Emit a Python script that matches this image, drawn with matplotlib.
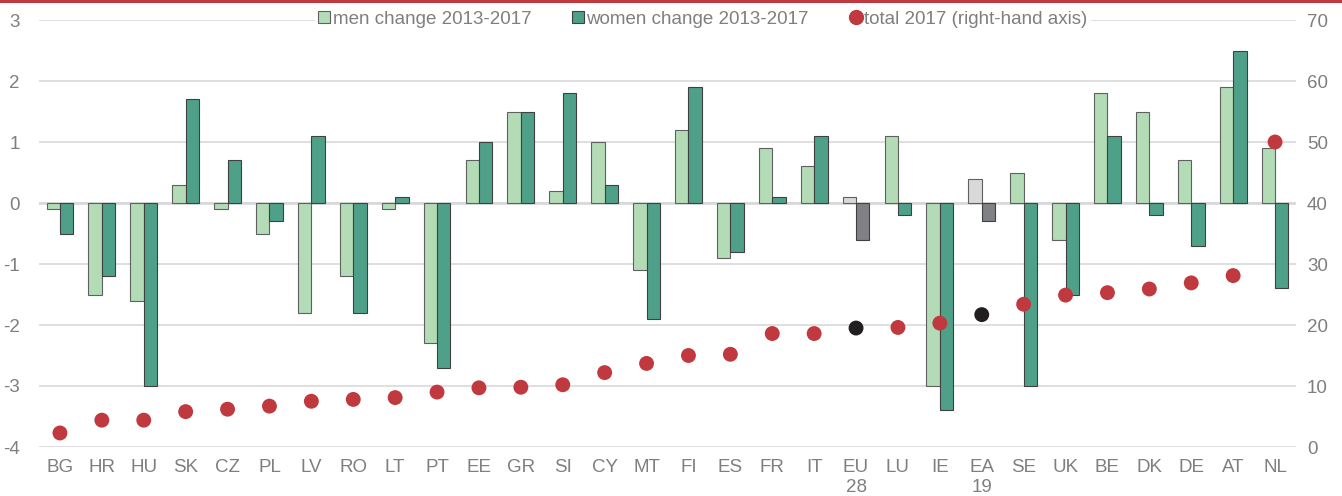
import numpy as np
import matplotlib
matplotlib.use("Agg")
import matplotlib.pyplot as plt
from matplotlib.lines import Line2D
from matplotlib.patches import Patch, Rectangle

plt.rcParams['font.family'] = ['Liberation Sans', 'DejaVu Sans']
plt.rcParams['font.size'] = 13.5
plt.rcParams['axes.unicode_minus'] = False

# data
countries = ['BG', 'HR', 'HU', 'SK', 'CZ', 'PL', 'LV', 'RO', 'LT', 'PT', 'EE', 'GR', 'SI', 'CY',
             'MT', 'FI', 'ES', 'FR', 'IT', 'EU\n28', 'LU', 'IE', 'EA\n19', 'SE', 'UK', 'BE',
             'DK', 'DE', 'AT', 'NL']
men_change = [-0.1, -1.5, -1.6, 0.3, -0.1, -0.5, -1.8, -1.2, -0.1, -2.3, 0.7, 1.5, 0.2, 1.0,
              -1.1, 1.2, -0.9, 0.9, 0.6, 0.1, 1.1, -3.0, 0.4, 0.5, -0.6, 1.8,
              1.5, 0.7, 1.9, 0.9]
women_change = [-0.5, -1.2, -3.0, 1.7, 0.7, -0.3, 1.1, -1.8, 0.1, -2.7, 1.0, 1.5, 1.8, 0.3,
                -1.9, 1.9, -0.8, 0.1, 1.1, -0.6, -0.2, -3.4, -0.3, -3.0, -1.5, 1.1,
                -0.2, -0.7, 2.5, -1.4]
total_2017 = [2.3, 4.4, 4.4, 5.8, 6.2, 6.7, 7.5, 7.8, 8.1, 9.0, 9.7, 9.8, 10.2, 12.2,
              13.7, 15.0, 15.2, 18.6, 18.6, 19.5, 19.6, 20.3, 21.7, 23.4, 24.9, 25.3,
              25.9, 26.9, 28.1, 50.0]
aggregates = ['EU\n28', 'EA\n19']

# colours
c_men, c_women = '#b3dcb6', '#4fa088'
c_men_agg, c_women_agg = '#d9d9d9', '#808184'
c_red, c_black = '#c0393e', '#231f20'
c_text, c_grid = '#7f7f7f', '#d9d9d9'

x = np.arange(len(countries))
is_agg = np.array([c in aggregates for c in countries])
w = 0.32

fig = plt.figure(figsize=(13.42, 4.96), dpi=100)
ax = fig.add_axes([39/1342, 1 - 447/496, (1296 - 39)/1342, 427/496])
ax2 = ax.twinx()

ax.bar(x - w/2, men_change, width=w, color=np.where(is_agg, c_men_agg, c_men),
       edgecolor='#606060', linewidth=0.8, zorder=3)
ax.bar(x + w/2, women_change, width=w, color=np.where(is_agg, c_women_agg, c_women),
       edgecolor='#404040', linewidth=0.8, zorder=3)

ax2.scatter(x, total_2017, s=115, color=np.where(is_agg, c_black, c_red), zorder=4, linewidths=0)

ax.set_xlim(-0.5, len(countries) - 0.5)
ax.set_ylim(-4, 3)
ax.set_yticks(range(-4, 4))
ax2.set_ylim(0, 70)
ax2.set_yticks(range(0, 71, 10))

ax.grid(axis='y', color=c_grid, linewidth=1.2, zorder=0)
ax.axhline(0, color=c_grid, linewidth=2, zorder=2)
ax.set_axisbelow(True)

ax.set_xticks(x)
ax.set_xticklabels(countries, linespacing=1.2)
for a in (ax, ax2):
    for s in a.spines.values():
        s.set_visible(False)
    a.tick_params(length=0, colors=c_text, labelsize=13.5)
ax.tick_params(axis='y', pad=14)
ax2.tick_params(axis='y', pad=8)
ax.tick_params(axis='x', pad=9)

handles = [Patch(facecolor=c_men, edgecolor='#606060', linewidth=0.8),
           Patch(facecolor=c_women, edgecolor='#404040', linewidth=0.8),
           Line2D([], [], marker='o', linestyle='', color=c_red, markersize=10)]
labels = ['men change 2013-2017', 'women change 2013-2017', 'total 2017 (right-hand axis)']
leg = fig.legend(handles, labels, loc='center', bbox_to_anchor=(703/1342, 1 - 19/496), ncol=3,
                 frameon=True, facecolor='white', edgecolor='none', framealpha=1,
                 handlelength=0.6, handleheight=0.6, handletextpad=0.15, columnspacing=2.2,
                 borderpad=0.2, fontsize=13.5)
for t in leg.get_texts():
    t.set_color(c_text)

# red rule at the top
fig.add_artist(Rectangle((0, 1 - 3/496), 1, 3/496, transform=fig.transFigure,
                         color=c_red, linewidth=0))

fig.savefig('out.png', dpi=100)
